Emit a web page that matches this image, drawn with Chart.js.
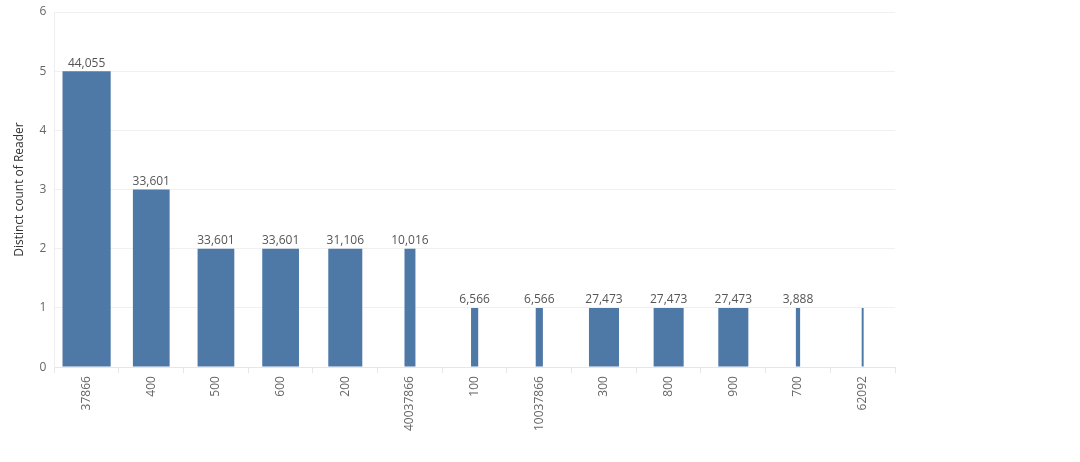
<!DOCTYPE html>
<html>
<head>
<meta charset="utf-8">
<script src="https://cdn.jsdelivr.net/npm/chart.js@4/dist/chart.umd.min.js"></script>
<style>
  html, body { margin: 0; padding: 0; background: #fff; }
  #wrap { width: 1080px; height: 462px; }
</style>
</head>
<body>
<div id="wrap"><canvas id="c" width="1080" height="462"></canvas></div>
<script>
// Categories (x axis)
const categories = ['37866', '400', '500', '600', '200', '40037866', '100', '10037866', '300', '800', '900', '700', '62092'];
// Distinct count of Reader (bar heights)
const readerCounts = [5, 3, 2, 2, 2, 2, 1, 1, 1, 1, 1, 1, 1];
// Size measure (bar widths and labels); last bar has no label
const sizeValues = [44055, 33601, 33601, 33601, 31106, 10016, 6566, 6566, 27473, 27473, 27473, 3888, 1800];
const sizeLabels = ['44,055', '33,601', '33,601', '33,601', '31,106', '10,016', '6,566', '6,566', '27,473', '27,473', '27,473', '3,888', null];
// Y ticks
const yTicks = [0, 1, 2, 3, 4, 5, 6];

const FONT = '"Open Sans", "DejaVu Sans", sans-serif';
const maxSize = Math.max(...sizeValues);

const widthPlugin = {
  id: 'varWidth',
  afterDatasetsUpdate(chart) {
    const meta = chart.getDatasetMeta(0);
    const xs = chart.scales.x;
    const cw = xs.width / categories.length;
    meta.data.forEach((el, i) => {
      el.width = Math.max(1.5, sizeValues[i] / maxSize * cw * 0.745);
    });
  }
};

const labelPlugin = {
  id: 'barLabels',
  afterDatasetsDraw(chart) {
    const ctx = chart.ctx;
    const meta = chart.getDatasetMeta(0);
    ctx.save();
    ctx.font = '12px ' + FONT;
    ctx.fillStyle = '#555555';
    ctx.textAlign = 'center';
    ctx.textBaseline = 'bottom';
    meta.data.forEach((el, i) => {
      if (sizeLabels[i]) ctx.fillText(sizeLabels[i], el.x, el.y - 2);
    });
    ctx.restore();
  }
};

new Chart(document.getElementById('c'), {
  type: 'bar',
  data: {
    labels: categories,
    datasets: [{
      data: readerCounts,
      backgroundColor: '#4e79a7',
      borderWidth: 0,
      categoryPercentage: 1,
      barPercentage: 0.7
    }]
  },
  options: {
    responsive: false,
    animation: false,
    events: [],
    layout: { padding: { left: 12, right: 185, top: 12, bottom: 28 } },
    plugins: { legend: { display: false }, tooltip: { enabled: false } },
    scales: {
      x: {
        grid: {
          offset: true,
          drawOnChartArea: false,
          color: '#e6e6e6',
          tickLength: 6
        },
        border: { color: '#e6e6e6' },
        ticks: {
          minRotation: 90,
          maxRotation: 90,
          autoSkip: false,
          color: '#666666',
          font: { family: FONT, size: 12 },
          padding: 3
        }
      },
      y: {
        min: 0,
        max: 6,
        afterBuildTicks(scale) { scale.ticks = yTicks.map(v => ({ value: v })); },
        afterFit(scale) { scale.paddingTop = 0; },
        grid: { color: '#f0f0f0', drawTicks: false },
        border: { color: '#eeeeee' },
        ticks: {
          color: '#666666',
          font: { family: FONT, size: 12 },
          padding: 8
        },
        title: {
          display: true,
          text: 'Distinct count of Reader',
          color: '#333333',
          font: { family: FONT, size: 12 },
          padding: { top: 0, bottom: 5 }
        }
      }
    }
  },
  plugins: [widthPlugin, labelPlugin]
});
</script>
</body>
</html>
